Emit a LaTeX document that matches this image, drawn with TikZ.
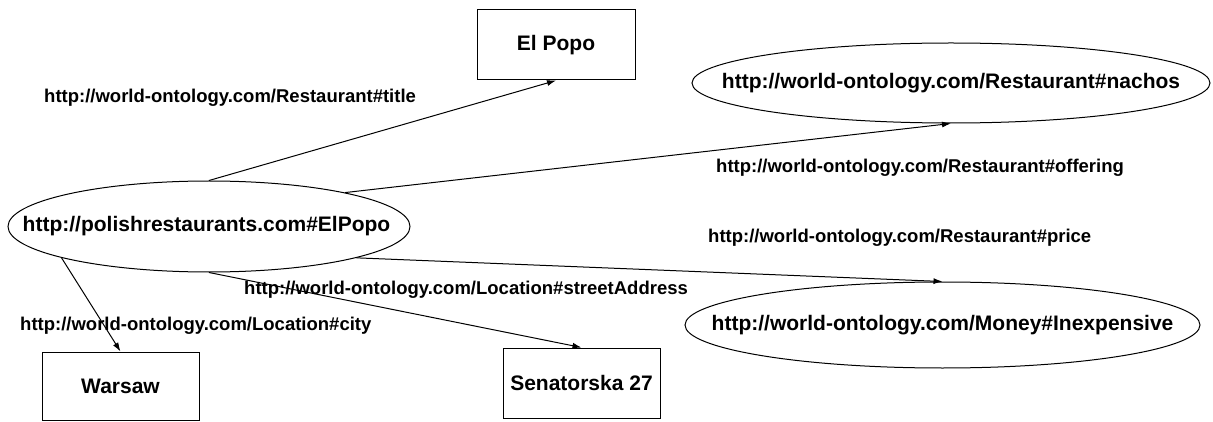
\documentclass[tikz,border=0pt]{standalone}
\usepackage{fontspec}
\setmainfont{Liberation Sans}
\usetikzlibrary{shapes.geometric,arrows.meta}

% zero-width text so that the ellipse size comes from the minimum sizes only
\newcommand{\zerowide}[1]{\makebox[0pt]{#1}}

\begin{document}
\begin{tikzpicture}[x=1pt,y=-1pt,
  every node/.style={font=\bfseries\fontsize{21}{25}\selectfont, inner sep=0pt},
  resource/.style={draw, ellipse, line width=1pt},
  literal/.style={draw, rectangle, line width=1pt},
  prop/.style={font=\bfseries\fontsize{18.5}{22}\selectfont, anchor=west},
  rel/.style={line width=1pt, -{Latex[length=9pt,width=6pt]}}
]
\useasboundingbox (0,0) rectangle (1213,422);

% subject and objects
\node[resource, minimum width=402pt, minimum height=91pt] (elpopo) at (209,226.5) {\zerowide{\hspace*{-5pt}http://polishrestaurants.com\#ElPopo}};
\node[literal, minimum width=158pt, minimum height=70pt] (title) at (556,45) {El Popo};
\node[resource, minimum width=518pt, minimum height=80pt] (nachos) at (951,83) {\zerowide{http://world-ontology.com/Restaurant\#nachos}};
\node[resource, minimum width=515pt, minimum height=86pt] (cheap) at (942.5,325) {\zerowide{http://world-ontology.com/Money\#Inexpensive}};
\node[literal, minimum width=157pt, minimum height=68pt] (warsaw) at (120.5,386) {Warsaw};
\node[literal, minimum width=157pt, minimum height=70pt] (street) at (581.5,383) {Senatorska 27};

% property labels
\node[prop] (ltitle) at (44,98) {http://world-ontology.com/Restaurant\#title};
\node[prop] (loffer) at (716,168) {http://world-ontology.com/Restaurant\#offering};
\node[prop] (lprice) at (708,238) {http://world-ontology.com/Restaurant\#price};
\node[prop] (lstreet) at (244,290) {http://world-ontology.com/Location\#streetAddress};
\node[prop] (lcity) at (20,326) {http://world-ontology.com/Location\#city};

% properties
\draw[rel] (elpopo.north) -- (title.south);
\draw[rel] (elpopo.14) -- (nachos.south);
\draw[rel] (elpopo.-12.5) -- (cheap.north);
\draw[rel] (elpopo.south) -- (street.north);
\draw[rel] (elpopo.192.5) -- (warsaw.north);
\end{tikzpicture}
\end{document}
